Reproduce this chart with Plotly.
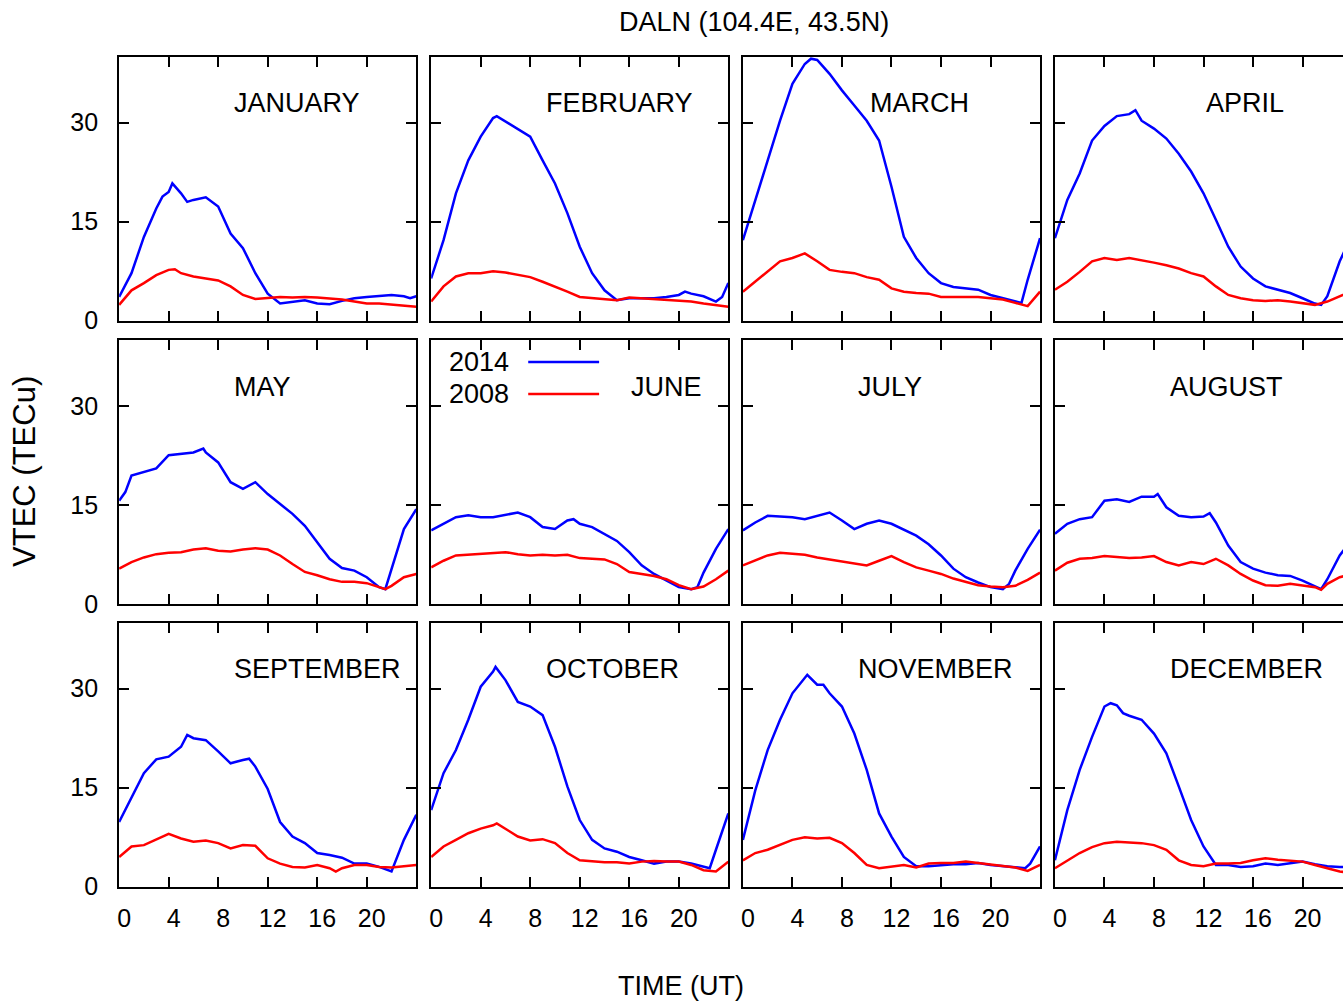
import plotly.graph_objects as go
from plotly.subplots import make_subplots

# ---------------- data ----------------
MONTHS = ["JANUARY", "FEBRUARY", "MARCH", "APRIL", "MAY", "JUNE",
          "JULY", "AUGUST", "SEPTEMBER", "OCTOBER", "NOVEMBER", "DECEMBER"]
HOURS = list(range(25))
X_TICKS = [0, 4, 8, 12, 16, 20]
Y_TICKS = [0, 15, 30]
YEAR_A = "2014"
YEAR_B = "2008"

T2014 = {
    "JANUARY": [0, 1, 2, 3, 3.5, 4, 4.3, 5, 5.5, 6, 7, 7.5, 8, 9, 10, 11, 12, 13, 14, 15, 16, 17, 18, 19, 20, 21, 22, 23, 23.5, 24],
    "FEBRUARY": [0, 1, 2, 3, 4, 5, 5.3, 6, 7, 8, 9, 10, 11, 12, 13, 14, 15, 16, 17, 18, 19, 20, 20.5, 21, 22, 23, 23.5, 24],
    "MARCH": [0, 1, 2, 3, 4, 5, 5.5, 6, 7, 8, 9, 10, 11, 12, 13, 14, 15, 16, 17, 18, 19, 20, 21, 22, 22.5, 23, 24],
    "APRIL": [0, 1, 2, 3, 4, 5, 6, 6.5, 7, 8, 9, 10, 11, 12, 13, 14, 15, 16, 17, 18, 19, 20, 21, 21.5, 22, 23, 24],
    "MAY": [0, 0.5, 1, 2, 3, 4, 5, 6, 6.8, 7, 8, 9, 10, 11, 12, 13, 14, 15, 16, 17, 18, 19, 20, 21, 21.5, 22, 23, 24],
    "JUNE": [0, 1, 2, 3, 4, 5, 6, 7, 8, 9, 10, 11, 11.5, 12, 13, 14, 15, 16, 17, 18, 19, 20, 21, 21.5, 22, 23, 24],
    "JULY": [0, 1, 2, 3, 4, 5, 6, 7, 8, 9, 10, 11, 12, 13, 14, 15, 16, 17, 18, 19, 20, 21, 21.5, 22, 23, 24],
    "AUGUST": [0, 1, 2, 3, 4, 5, 6, 7, 8, 8.3, 9, 10, 11, 12, 12.5, 13, 14, 15, 16, 17, 18, 19, 20, 21, 21.5, 22, 23, 24],
    "SEPTEMBER": [0, 1, 2, 3, 4, 5, 5.5, 6, 7, 8, 9, 10, 10.5, 11, 12, 13, 14, 15, 16, 17, 18, 19, 20, 21, 22, 23, 24],
    "OCTOBER": [0, 1, 2, 3, 4, 5, 5.2, 6, 7, 8, 9, 10, 11, 12, 13, 14, 15, 16, 17, 18, 19, 20, 21, 22, 22.5, 23, 24],
    "NOVEMBER": [0, 1, 2, 3, 4, 5, 5.2, 6, 6.5, 7, 8, 9, 10, 11, 12, 13, 14, 15, 16, 17, 18, 19, 20, 21, 22, 22.8, 23.2, 24],
    "DECEMBER": [0, 1, 2, 3, 4, 4.5, 5, 5.5, 6, 7, 8, 9, 10, 11, 12, 12.8, 13, 14, 15, 16, 17, 18, 19, 20, 21, 22, 23, 24],
}
V2014 = {
    "JANUARY": [3.6, 7.2, 12.7, 17.0, 18.8, 19.5, 20.8, 19.3, 18.0, 18.3, 18.7, 18.0, 17.3, 13.2, 11.0, 7.2, 4.1, 2.6, 2.9, 3.1, 2.6, 2.5, 3.0, 3.4, 3.6, 3.7, 3.9, 3.7, 3.4, 3.7],
    "FEBRUARY": [6.4, 12.2, 19.3, 24.3, 27.9, 30.7, 31.0, 30.2, 29.1, 27.9, 24.3, 20.8, 16.3, 11.2, 7.2, 4.6, 3.1, 3.4, 3.4, 3.4, 3.6, 3.9, 4.4, 4.1, 3.7, 2.9, 3.6, 5.7],
    "MARCH": [12.2, 18.3, 24.3, 30.3, 35.9, 38.9, 39.7, 39.5, 37.4, 34.9, 32.6, 30.3, 27.3, 20.3, 12.7, 9.5, 7.2, 5.7, 5.1, 4.9, 4.7, 3.9, 3.4, 2.9, 2.7, 6.2, 12.5],
    "APRIL": [12.5, 18.3, 22.3, 27.3, 29.5, 31.0, 31.3, 31.9, 30.3, 29.1, 27.6, 25.3, 22.6, 19.3, 15.3, 11.2, 8.2, 6.4, 5.2, 4.7, 4.2, 3.4, 2.6, 2.4, 3.7, 9.0, 13.0],
    "MAY": [15.7, 17.0, 19.5, 20.0, 20.6, 22.6, 22.8, 23.0, 23.6, 23.0, 21.5, 18.5, 17.5, 18.5, 16.7, 15.2, 13.7, 11.9, 9.4, 6.9, 5.5, 5.1, 4.1, 2.6, 2.3, 5.4, 11.4, 14.4],
    "JUNE": [11.2, 12.2, 13.2, 13.5, 13.2, 13.2, 13.5, 13.9, 13.2, 11.7, 11.4, 12.7, 12.9, 12.2, 11.7, 10.7, 9.6, 7.9, 5.9, 4.6, 3.6, 2.6, 2.3, 2.6, 4.8, 8.4, 11.4],
    "JULY": [11.2, 12.4, 13.4, 13.3, 13.2, 12.9, 13.4, 13.9, 12.7, 11.4, 12.2, 12.7, 12.2, 11.3, 10.4, 9.1, 7.4, 5.4, 4.1, 3.3, 2.6, 2.3, 3.1, 5.1, 8.4, 11.3],
    "AUGUST": [10.7, 12.2, 12.9, 13.2, 15.7, 15.9, 15.5, 16.3, 16.3, 16.7, 14.7, 13.4, 13.2, 13.3, 13.8, 12.4, 8.9, 6.4, 5.4, 4.8, 4.4, 4.3, 3.6, 2.8, 2.3, 3.8, 7.4, 9.9],
    "SEPTEMBER": [9.8, 13.6, 17.2, 19.3, 19.7, 21.2, 23.0, 22.5, 22.2, 20.5, 18.7, 19.2, 19.4, 18.2, 14.8, 9.8, 7.6, 6.6, 5.1, 4.8, 4.4, 3.5, 3.5, 3.0, 2.3, 7.1, 10.9],
    "OCTOBER": [11.6, 17.2, 20.7, 25.3, 30.3, 32.6, 33.3, 31.3, 28.0, 27.3, 26.0, 21.2, 15.2, 10.1, 7.1, 5.8, 5.3, 4.5, 4.0, 3.5, 3.8, 3.8, 3.5, 3.0, 2.8, 5.6, 11.1],
    "NOVEMBER": [7.1, 14.6, 20.7, 25.3, 29.3, 31.6, 32.1, 30.6, 30.6, 29.3, 27.3, 23.2, 17.7, 11.1, 7.6, 4.5, 3.1, 3.1, 3.3, 3.4, 3.4, 3.6, 3.3, 3.1, 3.0, 2.8, 3.5, 6.1],
    "DECEMBER": [4.0, 11.6, 17.7, 22.7, 27.3, 27.8, 27.5, 26.3, 25.9, 25.3, 23.2, 20.2, 15.2, 10.1, 6.1, 3.8, 3.3, 3.3, 3.0, 3.1, 3.5, 3.3, 3.5, 3.8, 3.4, 3.1, 3.0, 3.0],
}

T2008 = {
    "JANUARY": [0, 1, 2, 3, 4, 4.5, 5, 6, 7, 8, 9, 10, 11, 12, 13, 14, 15, 16, 17, 18, 19, 20, 21, 22, 23, 24],
    "FEBRUARY": HOURS,
    "MARCH": HOURS,
    "APRIL": HOURS,
    "MAY": [0, 1, 2, 3, 4, 5, 6, 7, 8, 9, 10, 11, 12, 13, 14, 15, 16, 17, 18, 19, 20, 21, 21.5, 22, 23, 24],
    "JUNE": HOURS,
    "JULY": HOURS,
    "AUGUST": [0, 1, 2, 3, 4, 5, 6, 7, 8, 9, 10, 11, 12, 13, 14, 15, 16, 17, 18, 19, 20, 21, 21.5, 22, 23, 24],
    "SEPTEMBER": [0, 1, 2, 3, 4, 5, 6, 7, 8, 9, 10, 11, 12, 13, 14, 15, 16, 17, 17.5, 18, 19, 20, 21, 22, 23, 24],
    "OCTOBER": [0, 1, 2, 3, 4, 5, 5.3, 6, 7, 8, 9, 10, 11, 12, 13, 14, 15, 16, 17, 18, 19, 20, 21, 22, 23, 24],
    "NOVEMBER": HOURS,
    "DECEMBER": HOURS,
}
V2008 = {
    "JANUARY": [2.4, 4.6, 5.7, 6.9, 7.7, 7.8, 7.2, 6.7, 6.4, 6.1, 5.2, 3.9, 3.3, 3.4, 3.6, 3.5, 3.6, 3.5, 3.4, 3.2, 2.9, 2.6, 2.6, 2.4, 2.2, 2.1],
    "FEBRUARY": [2.9, 5.2, 6.7, 7.2, 7.2, 7.5, 7.3, 6.9, 6.6, 5.9, 5.2, 4.4, 3.6, 3.4, 3.2, 3.1, 3.5, 3.4, 3.3, 3.2, 3.1, 2.9, 2.6, 2.3, 2.1],
    "MARCH": [4.4, 5.9, 7.4, 9.0, 9.5, 10.2, 9.0, 7.7, 7.4, 7.2, 6.6, 6.2, 4.9, 4.4, 4.2, 4.1, 3.6, 3.6, 3.7, 3.6, 3.4, 3.2, 2.7, 2.2, 4.4],
    "APRIL": [4.7, 5.9, 7.4, 9.0, 9.5, 9.2, 9.5, 9.2, 8.8, 8.4, 7.9, 7.2, 6.7, 5.2, 3.9, 3.4, 3.1, 3.0, 3.1, 2.9, 2.7, 2.4, 2.9, 3.7, 4.5],
    "MAY": [5.4, 6.4, 7.1, 7.6, 7.8, 7.9, 8.3, 8.5, 8.1, 8.0, 8.3, 8.5, 8.3, 7.4, 6.1, 4.9, 4.4, 3.8, 3.4, 3.4, 3.2, 2.6, 2.3, 2.8, 4.1, 4.6],
    "JUNE": [5.6, 6.6, 7.4, 7.5, 7.6, 7.7, 7.9, 7.6, 7.4, 7.5, 7.4, 7.5, 7.0, 6.9, 6.8, 6.1, 4.9, 4.6, 4.3, 3.8, 2.9, 2.3, 2.7, 3.8, 5.1],
    "JULY": [5.9, 6.6, 7.4, 7.8, 7.7, 7.5, 7.1, 6.8, 6.5, 6.1, 5.9, 6.6, 7.3, 6.4, 5.6, 5.1, 4.6, 3.9, 3.4, 2.9, 2.7, 2.6, 2.8, 3.7, 4.8],
    "AUGUST": [5.1, 6.3, 6.9, 7.0, 7.3, 7.1, 7.0, 7.1, 7.3, 6.4, 5.9, 6.4, 6.1, 6.9, 5.9, 4.6, 3.6, 2.9, 2.8, 3.1, 2.8, 2.6, 2.2, 3.1, 4.1, 4.6],
    "SEPTEMBER": [4.5, 6.1, 6.3, 7.1, 8.0, 7.3, 6.8, 7.0, 6.6, 5.8, 6.3, 6.2, 4.3, 3.5, 3.0, 2.9, 3.3, 2.8, 2.3, 2.8, 3.3, 3.3, 3.0, 2.9, 3.1, 3.3],
    "OCTOBER": [4.5, 6.1, 7.1, 8.1, 8.8, 9.3, 9.6, 8.8, 7.6, 7.0, 7.2, 6.6, 5.1, 4.0, 3.8, 3.7, 3.7, 3.5, 3.8, 3.9, 3.8, 3.8, 3.3, 2.5, 2.3, 3.8],
    "NOVEMBER": [4.0, 5.1, 5.6, 6.3, 7.1, 7.5, 7.3, 7.4, 6.6, 5.1, 3.3, 2.8, 3.0, 3.3, 2.9, 3.5, 3.6, 3.6, 3.8, 3.6, 3.3, 3.1, 2.9, 2.4, 3.3],
    "DECEMBER": [2.8, 4.0, 5.1, 6.0, 6.6, 6.8, 6.7, 6.6, 6.3, 5.6, 4.0, 3.3, 3.1, 3.5, 3.5, 3.6, 4.0, 4.3, 4.1, 4.0, 3.8, 3.3, 2.8, 2.3, 2.1],
}

# ---------------- layout / style ----------------
REF_H = 1006
W, H = 1343, 1020
SY = H / REF_H          # vertical factor of the capture
FONT = "Liberation Sans, Arial, Helvetica, sans-serif"
BLUE = "#0000ff"
RED = "#ff0000"

COL_LEFT = [117.3, 429.8, 742.0, 1054.5]   # px
PANEL_W = 297.6
ROW_TOP = [56.7, 340.3, 622.7]            # px in reference (y = 40)
PANEL_H = 264.0
LABEL_X = {m: 9.1 for m in MONTHS}
LABEL_X.update({"MARCH": 10.1, "APRIL": 12.05, "JUNE": 15.95})


def py(px):
    return 1 - px * SY / H


fig = make_subplots(rows=3, cols=4)

annotations = []
for i, m in enumerate(MONTHS):
    r, c = divmod(i, 4)
    fig.add_trace(go.Scatter(x=T2014[m], y=V2014[m], mode="lines",
                             line=dict(color=BLUE, width=2.5), showlegend=False,
                             name=YEAR_A), row=r + 1, col=c + 1)
    fig.add_trace(go.Scatter(x=T2008[m], y=V2008[m], mode="lines",
                             line=dict(color=RED, width=2.5), showlegend=False,
                             name=YEAR_B), row=r + 1, col=c + 1)
    idx = i + 1
    sfx = "" if idx == 1 else str(idx)
    left = COL_LEFT[c]
    right = min(left + PANEL_W, W)
    xmax = 24 * (right - left) / PANEL_W
    top = ROW_TOP[r]
    bot = top + PANEL_H
    fig.layout["xaxis" + sfx].update(
        domain=[left / W, right / W], range=[0, xmax],
        tickmode="array", tickvals=X_TICKS, ticktext=[str(v) for v in X_TICKS],
        ticks="inside", ticklen=10, tickwidth=1.5, tickcolor="black",
        showline=True, linecolor="black", linewidth=2, mirror="ticks",
        showgrid=False, zeroline=False, showticklabels=(r == 2),
        tickfont=dict(family=FONT, size=25, color="black"),
        ticklabelshift=5, ticklabelstandoff=8)
    fig.layout["yaxis" + sfx].update(
        domain=[py(bot), py(top)], range=[0, 40],
        tickmode="array", tickvals=Y_TICKS, ticktext=[str(v) for v in Y_TICKS],
        ticks="inside", ticklen=10, tickwidth=1.5, tickcolor="black",
        showline=True, linecolor="black", linewidth=2,
        mirror=("ticks" if c < 3 else False),
        showgrid=False, zeroline=False, showticklabels=(c == 0),
        tickfont=dict(family=FONT, size=25, color="black"),
        ticklabelstandoff=14)
    annotations.append(dict(x=LABEL_X[m], y=33, xref="x" + sfx, yref="y" + sfx,
                            text=m, showarrow=False, xanchor="left", yanchor="middle",
                            font=dict(family=FONT, size=27, color="black")))

# titles
annotations.append(dict(x=753 / W, y=py(22), xref="paper", yref="paper",
                        text="DALN (104.4E, 43.5N)", showarrow=False,
                        xanchor="center", yanchor="middle",
                        font=dict(family=FONT, size=27, color="black")))
annotations.append(dict(x=680 / W, y=py(986), xref="paper", yref="paper",
                        text="TIME (UT)", showarrow=False,
                        xanchor="center", yanchor="middle",
                        font=dict(family=FONT, size=27, color="black")))
annotations.append(dict(x=22 / W, y=py(471), xref="paper", yref="paper",
                        text="VTEC (TECu)", showarrow=False, textangle=-90,
                        xanchor="center", yanchor="middle",
                        font=dict(family=FONT, size=31, color="black")))
# legend (inside JUNE panel)
annotations.append(dict(x=510 / W, y=py(362), xref="paper", yref="paper",
                        text=YEAR_A, showarrow=False, xanchor="right", yanchor="middle",
                        font=dict(family=FONT, size=27, color="black")))
annotations.append(dict(x=510 / W, y=py(394), xref="paper", yref="paper",
                        text=YEAR_B, showarrow=False, xanchor="right", yanchor="middle",
                        font=dict(family=FONT, size=27, color="black")))
shapes = [
    dict(type="line", xref="paper", yref="paper", x0=527 / W, x1=598 / W,
         y0=py(362), y1=py(362), line=dict(color=BLUE, width=2.5)),
    dict(type="line", xref="paper", yref="paper", x0=527 / W, x1=598 / W,
         y0=py(394), y1=py(394), line=dict(color=RED, width=2.5)),
]

fig.update_layout(width=W, height=H, margin=dict(l=0, r=0, t=0, b=0),
                  paper_bgcolor="white", plot_bgcolor="white",
                  annotations=annotations, shapes=shapes, showlegend=False)

fig.write_html("out.html")
